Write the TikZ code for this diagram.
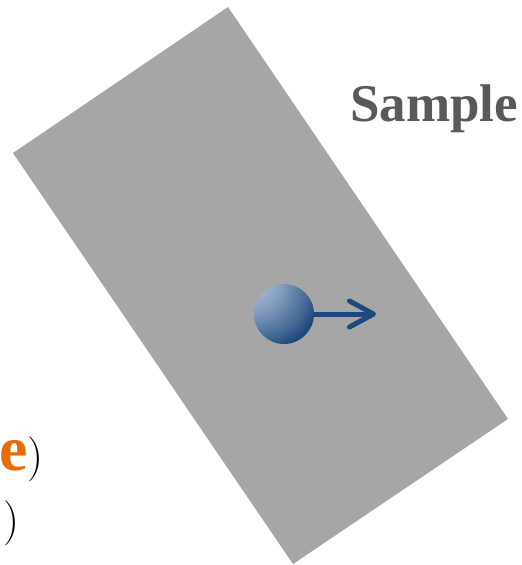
\documentclass[tikz,border=0pt]{standalone}
\usepackage{fontspec}
\newfontfamily\labelserif{Liberation Serif}
\usepackage{xcolor}
\usepackage{tikz}
\usetikzlibrary{arrows.meta,positioning,calc}
\definecolor{plategray}{HTML}{A6A6A6}
\definecolor{textgray}{HTML}{595959}
\definecolor{accent}{HTML}{E46C0A}
\definecolor{ballblue}{HTML}{1F497D}
\definecolor{balllight}{HTML}{C2D1E6}
\pgfdeclareradialshading{ballshade}{\pgfpoint{-36bp}{36bp}}{%
  color(0bp)=(balllight); color(24bp)=(balllight!65!ballblue);
  color(42bp)=(ballblue!80!balllight); color(48bp)=(ballblue);
  color(100bp)=(ballblue)}
\tikzset{
  plate/.style={fill=plategray},
  ballnode/.style={
    circle,minimum size=60pt,inner sep=0pt,
    shading=ballshade
  },
  pusharrow/.style={-{Straight Barb[length=24pt,width=26pt,round]},
    draw=ballblue,line width=5pt},
  title/.style={anchor=base west,inner sep=0pt,text=textgray,
    font=\labelserif\fontsize{53}{53}\selectfont\bfseries},
  bracketlabel/.style={anchor=base east,inner sep=0pt}
}
\begin{document}
\begin{tikzpicture}[x=1pt,y=-1pt]
\useasboundingbox (0,0) rectangle (522,565);
% tilted plate
\coordinate (ptop) at (228,7);
\coordinate (pright) at (508,419);
\coordinate (pbottom) at (293,564);
\coordinate (pleft) at (13,153);
\fill[plate] (ptop) -- (pright) -- (pbottom) -- (pleft) -- cycle;
% ball and its push
\node[ballnode] (ball) at (284,314) {};
\coordinate (tip) at (376,314);
\draw[pusharrow] (ball.east) -- (tip);
% labels
\node[title] (sample) at (350,121) {Sample};
\node[bracketlabel] (lineone) at (44,470)
  {{\labelserif\fontsize{64}{64}\selectfont\bfseries\color{accent}e}{\fontsize{45}{45}\selectfont)}};
\node[bracketlabel] (linetwo) at (20,534) {{\fontsize{45}{45}\selectfont)}};
\end{tikzpicture}
\end{document}
